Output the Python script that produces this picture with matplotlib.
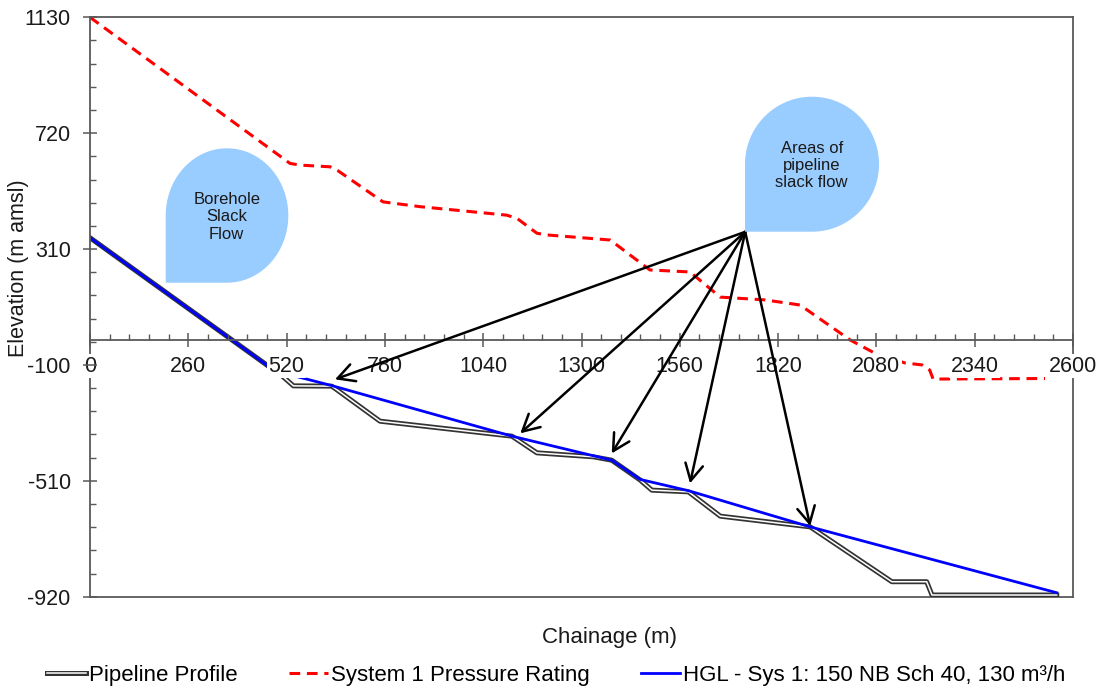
import numpy as np
import matplotlib
matplotlib.use('Agg')
import matplotlib.pyplot as plt
import matplotlib.patheffects as pe
from matplotlib.ticker import FixedLocator, MultipleLocator
from matplotlib.patches import Polygon

plt.rcParams['font.family'] = ['Liberation Sans', 'DejaVu Sans']

# ---------------- data ----------------
pipe_x = [0, 511, 538, 639, 648, 767, 1116, 1182, 1331, 1380, 1455, 1486, 1583,
          1667, 1905, 2121, 2213, 2227, 2557]
pipe_y = [350, -142, -174, -175, -183, -299, -352, -411, -425, -437, -507, -543,
          -549, -635, -673, -867, -867, -914, -914]

rating_x = [0, 529, 556, 635, 656, 775, 873, 1102, 1129, 1182, 1208, 1283, 1376,
            1481, 1587, 1667, 1786, 1878, 2011, 2085, 2156, 2201, 2221, 2230, 2526]
rating_y = [1130, 613, 607, 601, 587, 477, 460, 430, 419, 366, 360, 352, 342,
            236, 229, 140, 130, 112, -12, -65, -93, -100, -118, -150, -148]

hgl_x = [0, 489, 639, 1116, 1380, 1455, 1583, 1905, 2557]
hgl_y = [350, -121, -173, -352, -437, -505, -545, -673, -906]

arrow_origin = (1733, 371)
arrow_tx = [648, 1138, 1380, 1587, 1905]
arrow_ty = [-151, -342, -413, -519, -670]

x_ticks = [0, 260, 520, 780, 1040, 1300, 1560, 1820, 2080, 2340, 2600]
y_ticks = [-920, -510, -100, 310, 720, 1130]
x_axis_cross = -12

labels = ['Pipeline Profile', 'System 1 Pressure Rating',
          'HGL - Sys 1: 150 NB Sch 40, 130 m³/h']

# ---------------- figure ----------------
W, H = 1101, 688
fig = plt.figure(figsize=(W / 100, H / 100), dpi=100)
L, R, T, B = 90, 1073, 17.3, 596.7
rect = [L / W, 1 - B / H, (R - L) / W, (B - T) / H]
SPINE = '#595959'

frame = fig.add_axes(rect)
frame.set_xticks([])
frame.set_yticks([])
frame.spines['left'].set_visible(False)
for s in frame.spines.values():
    s.set_color(SPINE)
    s.set_linewidth(1.3)

ax = fig.add_axes(rect)
ax.patch.set_visible(False)
ax.set_axisbelow(False)
ax.set_xlim(0, 2600)
ax.set_ylim(-920, 1130)
ax.spines['top'].set_visible(False)
ax.spines['right'].set_visible(False)
ax.spines['bottom'].set_position(('data', x_axis_cross))
for s in ax.spines.values():
    s.set_color(SPINE)
    s.set_linewidth(1.3)

h1, = ax.plot(pipe_x, pipe_y, color='white', lw=1.1, zorder=2,
              path_effects=[pe.Stroke(linewidth=3.6, foreground='#333333'), pe.Normal()],
              label=labels[0])
h2, = ax.plot(rating_x, rating_y, color='#FF0000', lw=2.2, ls=(0, (3.5, 2.2)),
              zorder=2, label=labels[1])
h3, = ax.plot(hgl_x, hgl_y, color='#0000FF', lw=2.0, zorder=2.1, label=labels[2])

ax.xaxis.set_major_locator(FixedLocator(x_ticks))
ax.xaxis.set_minor_locator(MultipleLocator(52))
ax.yaxis.set_major_locator(FixedLocator(y_ticks))
ax.yaxis.set_minor_locator(FixedLocator(np.arange(y_ticks[0], y_ticks[-1] + 1, 82)))
ax.set_xticklabels([str(v) for v in x_ticks])
ax.set_yticklabels([str(v) for v in y_ticks])

ax.tick_params(axis='both', which='major', direction='inout', length=9.4, width=1.1,
               color=SPINE, labelsize=15.5, labelcolor='#1a1a1a')
ax.tick_params(axis='both', which='minor', direction='in', length=4.3, width=1.0,
               color=SPINE)
ax.tick_params(axis='y', which='major', pad=9.2)
ax.tick_params(axis='x', which='major', pad=6.5)

for lab in ax.get_xticklabels():
    lab.set_bbox(dict(facecolor='white', edgecolor='none', pad=1.0))

ax.set_ylabel('Elevation (m amsl)', fontsize=15.5, color='#1a1a1a', va='center')
ax.yaxis.set_label_coords((19 - L) / (R - L), (B - 268) / (B - T))
ax.set_xlabel('Chainage (m)', fontsize=16, color='#1a1a1a', va='center')
ax.xaxis.set_label_coords((609 - L) / (R - L), (B - 638) / (B - T))

# arrows
for tx, ty in zip(arrow_tx, arrow_ty):
    ax.annotate('', xy=(tx, ty), xytext=arrow_origin, zorder=3,
                arrowprops=dict(arrowstyle='->,head_length=0.6,head_width=0.32',
                                color='black', lw=1.8, shrinkA=0, shrinkB=0,
                                mutation_scale=20))


def teardrop(x0, x1, y0, y1, text, tcx, tcy):
    cx, cy = (x0 + x1) / 2, (y0 + y1) / 2
    rx, ry = (x1 - x0) / 2, (y1 - y0) / 2
    th = np.radians(np.linspace(-90, 180, 160))
    px = np.append(cx + rx * np.cos(th), x0)
    py = np.append(cy - ry * np.sin(th), y1)
    verts = np.column_stack([px / W, 1 - py / H])
    fig.add_artist(Polygon(verts, closed=True, transform=fig.transFigure,
                           facecolor='#99CCFF', edgecolor='none', zorder=5))
    fig.text(tcx / W, 1 - tcy / H, text, ha='center', va='center', fontsize=12,
             linespacing=1.2, color='#1a1a1a', zorder=6)


teardrop(165.7, 288.3, 148.3, 282.7, 'Borehole\nSlack\nFlow', 226.7, 216.7)
teardrop(745, 879, 96.7, 231.7, 'Areas of\npipeline\nslack flow', 811.7, 165.5)

fig.legend([h1, h2, h3], labels, loc='center', bbox_to_anchor=(0.505, 1 - 675 / H),
           ncol=3, frameon=False, fontsize=16, handlelength=1.75, handletextpad=0.15,
           columnspacing=2.3, borderpad=0, borderaxespad=0)

fig.savefig('out.png', dpi=100)
